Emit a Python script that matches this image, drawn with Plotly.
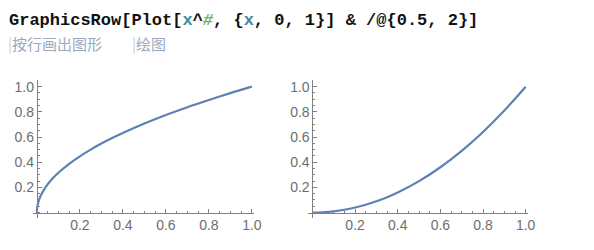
import plotly.graph_objects as go

# Data
x_vals = [0, 0.001, 0.003, 0.006, 0.01, 0.02, 0.03, 0.05, 0.075, 0.1, 0.15, 0.2, 0.25, 0.3,
          0.35, 0.4, 0.5, 0.6, 0.7, 0.8, 0.9, 1.0]
y_sqrt = [0, 0.032, 0.055, 0.077, 0.1, 0.141, 0.173, 0.224, 0.274, 0.316, 0.387, 0.447, 0.5,
          0.548, 0.592, 0.632, 0.707, 0.775, 0.837, 0.894, 0.949, 1.0]
y_square = [0, 0.0, 0.0, 0.0, 0.0001, 0.0004, 0.0009, 0.0025, 0.0056, 0.01, 0.0225, 0.04,
            0.0625, 0.09, 0.1225, 0.16, 0.25, 0.36, 0.49, 0.64, 0.81, 1.0]
tick_vals = [0.2, 0.4, 0.6, 0.8, 1.0]
tick_text = ["0.2", "0.4", "0.6", "0.8", "1.0"]

W, H = 594, 250
LINE = "#5E81B5"
AXC = "#808080"
LAB = "#6e6e6e"

fig = go.Figure()
fig.add_trace(go.Scatter(x=x_vals, y=y_sqrt, mode="lines",
                         line=dict(color=LINE, width=2.2, shape="spline", smoothing=0.8),
                         xaxis="x", yaxis="y", hoverinfo="skip"))
fig.add_trace(go.Scatter(x=x_vals, y=y_square, mode="lines",
                         line=dict(color=LINE, width=2.2, shape="spline", smoothing=0.8),
                         xaxis="x2", yaxis="y2", hoverinfo="skip"))

xr = [-0.02, 1.01]
yr = [-0.045, 1.05]
ydom = [1 - 218 / H, 1 - 79 / H]
x_pos = 1 - 212.3 / H
TICKFONT = dict(family="Liberation Sans", size=14, color=LAB)

def xax(domain):
    return dict(domain=domain, range=xr, anchor="free", position=x_pos,
                showgrid=False, zeroline=False, showline=True, linecolor=AXC, linewidth=1,
                tickmode="array", tickvals=tick_vals, ticktext=tick_text,
                ticks="inside", ticklen=4, tickcolor=AXC, tickwidth=1,
                minor=dict(tickmode="linear", tick0=0, dtick=0.05, ticks="inside", ticklen=2,
                           tickcolor=AXC, tickwidth=1, showgrid=False),
                tickfont=TICKFONT, fixedrange=True)

def yax(pos):
    return dict(domain=ydom, range=yr, anchor="free", position=pos,
                showgrid=False, zeroline=False, showline=True, linecolor=AXC, linewidth=1,
                tickmode="array", tickvals=tick_vals, ticktext=tick_text,
                ticks="inside", ticklen=4, tickcolor=AXC, tickwidth=1,
                minor=dict(tickmode="linear", tick0=0, dtick=0.05, ticks="inside", ticklen=2,
                           tickcolor=AXC, tickwidth=1, showgrid=False),
                tickfont=TICKFONT, fixedrange=True)

title_html = ("<b>GraphicsRow[Plot[<span style='color:#3f8c9c'>x</span>^"
              "<span style='color:#6fae6f'><i>#</i></span>, {<span style='color:#3f8c9c'>x</span>, 0, 1}] "
              "&amp; /@{0.5, 2}]</b>")

fig.update_layout(
    width=W, height=H, margin=dict(l=0, r=0, t=0, b=0),
    paper_bgcolor="white", plot_bgcolor="white", showlegend=False,
    xaxis=xax([33 / W, 257.5 / W]),
    yaxis=yax(37.3 / W),
    xaxis2=xax([312.4 / W, 535 / W]),
    yaxis2=yax(316.7 / W),
    annotations=[
        dict(text=title_html, x=7 / W, y=1 - 7 / H, xref="paper", yref="paper",
             xanchor="left", yanchor="top", showarrow=False,
             font=dict(family="Liberation Mono", size=17, color="#111111")),
        dict(text="<span style='color:#c8ced8'>|</span>按行画出图形", x=6 / W, y=1 - 29 / H,
             xref="paper", yref="paper", xanchor="left", yanchor="top", showarrow=False,
             font=dict(family="Noto Sans CJK SC", size=15, color="#9aa9bd")),
        dict(text="<span style='color:#c8ced8'>|</span>绘图", x=132 / W, y=1 - 29 / H,
             xref="paper", yref="paper", xanchor="left", yanchor="top", showarrow=False,
             font=dict(family="Noto Sans CJK SC", size=15, color="#9aa9bd")),
    ],
)

fig.write_html("out.html", config={"displayModeBar": False})
